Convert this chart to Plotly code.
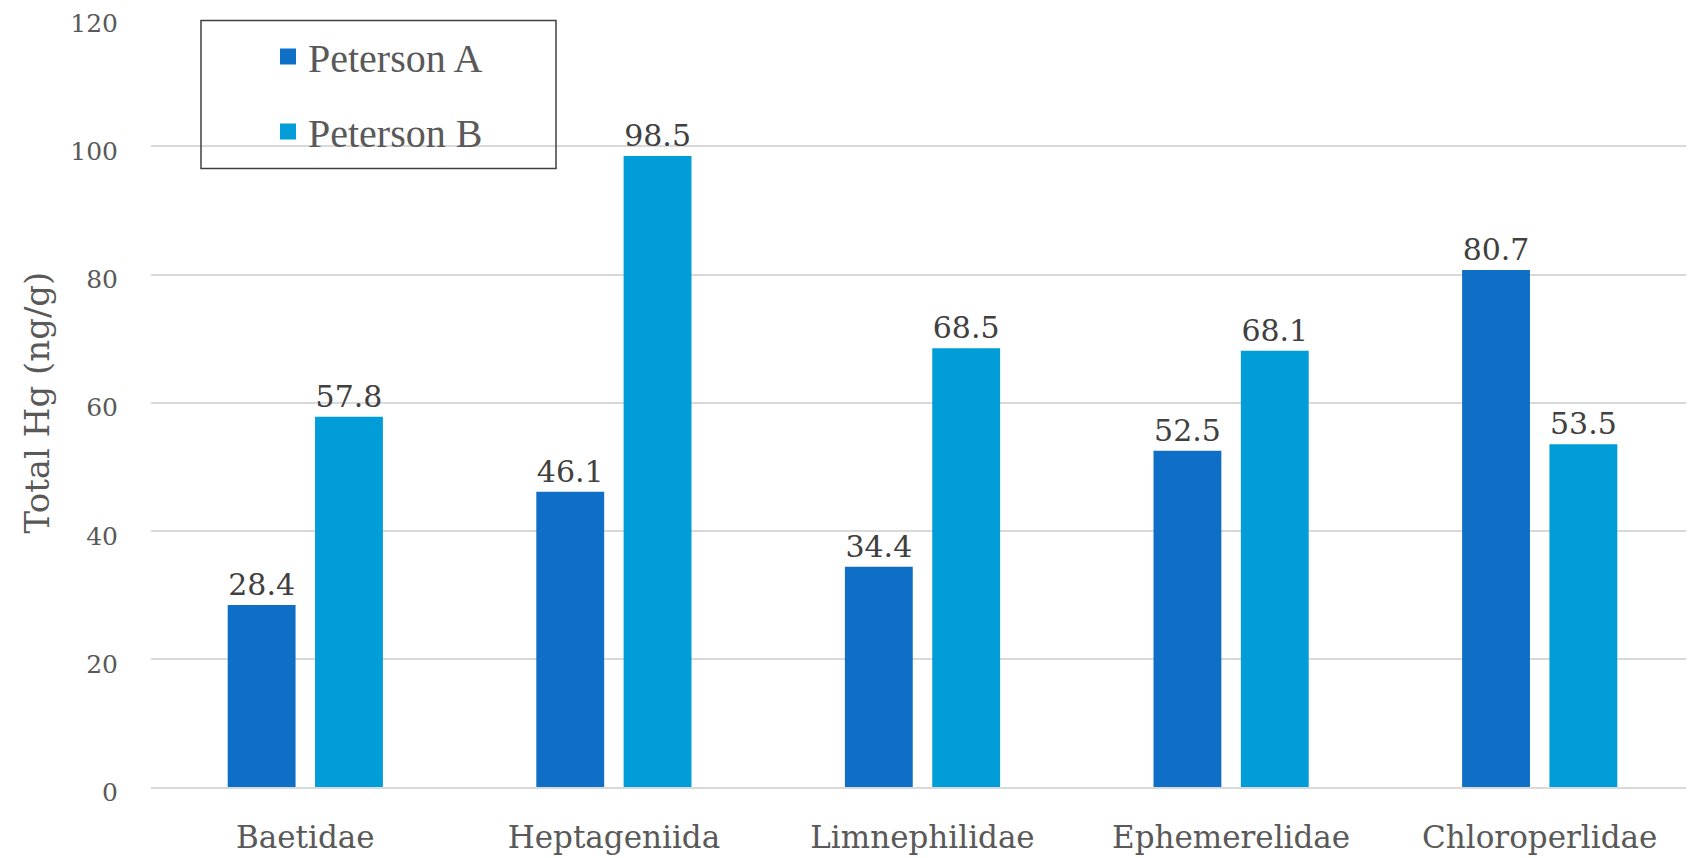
import plotly.graph_objects as go

categories = ["Baetidae", "Heptageniida", "Limnephilidae", "Ephemerelidae", "Chloroperlidae"]
peterson_a = [28.4, 46.1, 34.4, 52.5, 80.7]
peterson_b = [57.8, 98.5, 68.5, 68.1, 53.5]
series_names = ["Peterson A", "Peterson B"]
y_ticks = [0, 20, 40, 60, 80, 100, 120]

FONT = "DejaVu Serif"
colors = ["#0F6FC6", "#009DD9"]

fig = go.Figure()
for i, (name, vals) in enumerate(zip(series_names, [peterson_a, peterson_b])):
    fig.add_trace(go.Bar(
        x=categories, y=vals, name=name,
        marker=dict(color=colors[i], line=dict(width=0)),
        text=[f"{v:.1f}" for v in vals], textposition="outside",
        textfont=dict(family=FONT, size=30, color="#404040"),
        cliponaxis=False, showlegend=False,
    ))
# legend entries (square markers like the reference legend)
for i, name in enumerate(series_names):
    fig.add_trace(go.Scatter(
        x=[None], y=[None], mode="markers", name=name,
        marker=dict(symbol="square", size=20, color=colors[i]),
        legendgroup=name, showlegend=True,
    ))

OFF = 8  # default page body margin
W, H = 1694 - OFF, 858 - OFF
L, R, T, B = 151 - OFF, 0, 18 - OFF, 858 - 787
pw, ph = W - L - R, H - T - B


def px_x(page_x):
    return (page_x - OFF - L) / pw


def px_y(page_y):
    return (H - B - (page_y - OFF)) / ph


fig.update_layout(
    width=W, height=H,
    margin=dict(l=L, r=R, t=T, b=B, autoexpand=False),
    paper_bgcolor="white", plot_bgcolor="white",
    barmode="group", bargap=0.434, bargroupgap=0.223,
    font=dict(family=FONT, color="#595959"),
    showlegend=True,
    legend=dict(
        x=px_x(268), y=1 - 6 / ph, xanchor="left", yanchor="top",
        bgcolor="rgba(0,0,0,0)", borderwidth=0,
        font=dict(family="Liberation Serif", size=40, color="#595959"),
        tracegroupgap=20, itemsizing="trace",
    ),
    yaxis=dict(
        range=[0, 120.05], tickvals=y_ticks, showgrid=True,
        gridcolor="#D9D9D9", gridwidth=1.5, zeroline=False, automargin=False,
        tickfont=dict(family=FONT, size=25, color="#595959"),
        ticklabelstandoff=32, ticklabelshift=5, ticklabeloverflow="allow",
        title=dict(text="Total Hg (ng/g)", font=dict(family=FONT, size=34, color="#595959"), standoff=10),
    ),
    xaxis=dict(
        showline=True, linecolor="#D9D9D9", linewidth=1.5, automargin=False,
        tickfont=dict(family=FONT, size=31, color="#595959"),
        ticklabelstandoff=22,
    ),
    shapes=[dict(type="rect", xref="paper", yref="paper",
                 x0=px_x(201), x1=px_x(556),
                 y0=px_y(168.5), y1=px_y(20.5),
                 line=dict(color="#404040", width=1.5))],
)

fig.write_html("out.html")
